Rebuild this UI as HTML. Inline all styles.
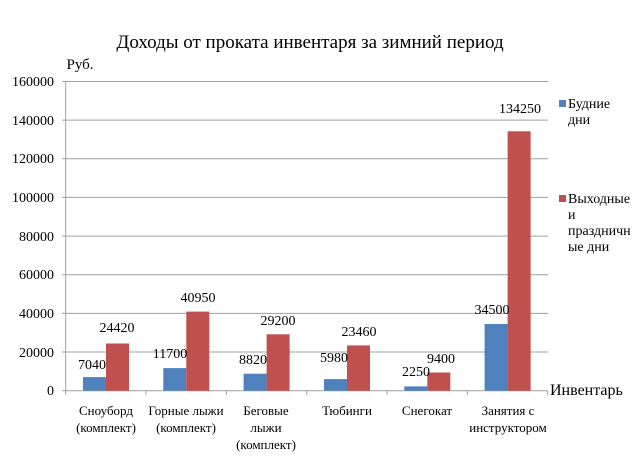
<!DOCTYPE html>
<html><head><meta charset="utf-8"><style>
body{margin:0;background:#fff}
svg, svg text{font-family:"Liberation Serif","Times New Roman",serif !important;fill:#000}
</style></head><body>
<svg width="641" height="461" xmlns="http://www.w3.org/2000/svg" font-family="Liberation Serif, serif">
<rect width="641" height="461" fill="#fff"/>
<text x="310" y="48" font-size="19" text-anchor="middle">Доходы от проката инвентаря за зимний период</text>
<text x="80" y="69" font-size="15" text-anchor="middle">Руб.</text>
<g stroke="#a0a0a0" stroke-width="1">
<line x1="62" x2="548" y1="81.5" y2="81.5"/>
<line x1="62" x2="548" y1="120.1" y2="120.1"/>
<line x1="62" x2="548" y1="158.8" y2="158.8"/>
<line x1="62" x2="548" y1="197.4" y2="197.4"/>
<line x1="62" x2="548" y1="236.1" y2="236.1"/>
<line x1="62" x2="548" y1="274.7" y2="274.7"/>
<line x1="62" x2="548" y1="313.4" y2="313.4"/>
<line x1="62" x2="548" y1="352" y2="352"/>
<line x1="62" x2="548" y1="390.7" y2="390.7"/>
<line x1="65.7" x2="65.7" y1="81.5" y2="395"/>
<line x1="146" x2="146" y1="390.7" y2="395"/>
<line x1="226.3" x2="226.3" y1="390.7" y2="395"/>
<line x1="306.7" x2="306.7" y1="390.7" y2="395"/>
<line x1="387" x2="387" y1="390.7" y2="395"/>
<line x1="467.3" x2="467.3" y1="390.7" y2="395"/>
<line x1="547.7" x2="547.7" y1="390.7" y2="395"/>
</g>
<g font-size="14" text-anchor="end">
<text x="54" y="86">160000</text><text x="54" y="125">140000</text><text x="54" y="163">120000</text>
<text x="54" y="202">100000</text><text x="54" y="241">80000</text><text x="54" y="279">60000</text>
<text x="54" y="318">40000</text><text x="54" y="357">20000</text><text x="54" y="395">0</text>
</g>
<g>
<rect x="83" y="377.1" width="23" height="13.6" fill="#4F81BD"/>
<rect x="106" y="343.5" width="23" height="47.2" fill="#C0504D"/>
<rect x="163.3" y="368.1" width="23" height="22.6" fill="#4F81BD"/>
<rect x="186.3" y="311.6" width="23" height="79.1" fill="#C0504D"/>
<rect x="243.6" y="373.7" width="23" height="17" fill="#4F81BD"/>
<rect x="266.6" y="334.3" width="23" height="56.4" fill="#C0504D"/>
<rect x="324" y="379.1" width="23" height="11.6" fill="#4F81BD"/>
<rect x="347" y="345.4" width="23" height="45.3" fill="#C0504D"/>
<rect x="404.3" y="386.4" width="23" height="4.3" fill="#4F81BD"/>
<rect x="427.3" y="372.5" width="23" height="18.2" fill="#C0504D"/>
<rect x="484.6" y="324" width="23" height="66.7" fill="#4F81BD"/>
<rect x="507.6" y="131.3" width="23" height="259.4" fill="#C0504D"/>
</g>
<g font-size="14" text-anchor="middle">
<text x="92" y="369">7040</text><text x="117" y="332">24420</text>
<text x="170" y="358">11700</text><text x="198" y="302">40950</text>
<text x="253" y="364">8820</text><text x="278" y="325">29200</text>
<text x="334" y="362">5980</text><text x="359" y="336">23460</text>
<text x="416" y="376">2250</text><text x="441" y="363">9400</text>
<text x="492" y="314">34500</text><text x="520" y="113">134250</text>
</g>
<g font-size="13" text-anchor="middle">
<text x="106" y="415">Сноуборд</text><text x="106" y="432">(комплект)</text>
<text x="186" y="415">Горные лыжи</text><text x="186" y="432">(комплект)</text>
<text x="266" y="415">Беговые</text><text x="266" y="432">лыжи</text><text x="266" y="449">(комплект)</text>
<text x="347" y="415">Тюбинги</text>
<text x="427" y="415">Снегокат</text>
<text x="508" y="415">Занятия с</text><text x="508" y="432">инструктором</text>
</g>
<text x="550" y="395" font-size="16">Инвентарь</text>
<rect x="559" y="100" width="7" height="7" fill="#4F81BD"/>
<g font-size="14"><text x="568" y="108">Будние</text><text x="568" y="124">дни</text></g>
<rect x="559" y="195" width="7" height="7" fill="#C0504D"/>
<g font-size="14"><text x="568" y="203">Выходные</text><text x="568" y="219">и</text><text x="568" y="235">праздничн</text><text x="568" y="251">ые дни</text></g>
</svg>
</body></html>
